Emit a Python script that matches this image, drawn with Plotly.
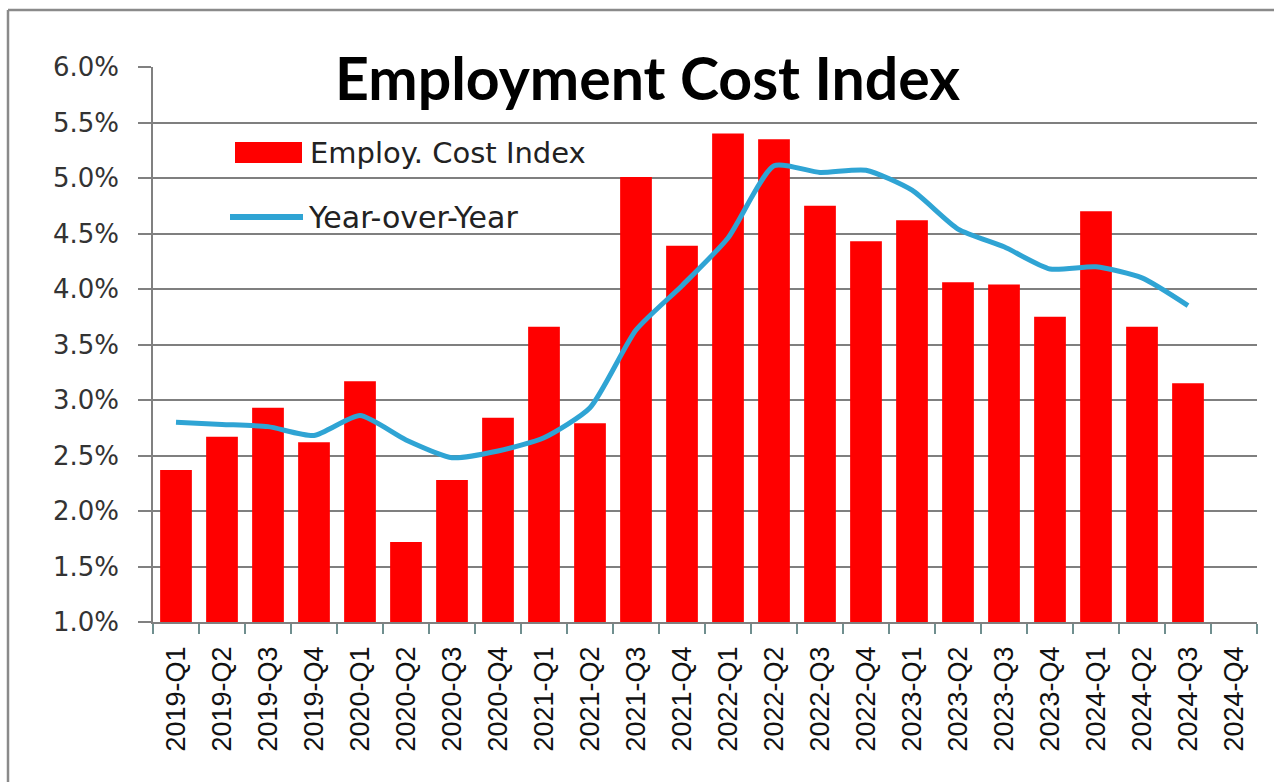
import plotly.graph_objects as go

# ---- data ----
quarters = ["2019-Q1", "2019-Q2", "2019-Q3", "2019-Q4",
            "2020-Q1", "2020-Q2", "2020-Q3", "2020-Q4",
            "2021-Q1", "2021-Q2", "2021-Q3", "2021-Q4",
            "2022-Q1", "2022-Q2", "2022-Q3", "2022-Q4",
            "2023-Q1", "2023-Q2", "2023-Q3", "2023-Q4",
            "2024-Q1", "2024-Q2", "2024-Q3", "2024-Q4"]
eci = [2.37, 2.67, 2.93, 2.62,
       3.17, 1.72, 2.28, 2.84,
       3.66, 2.79, 5.01, 4.39,
       5.40, 5.35, 4.75, 4.43,
       4.62, 4.06, 4.04, 3.75,
       4.70, 3.66, 3.15, None]
yoy = [2.80, 2.78, 2.76, 2.68,
       2.86, 2.64, 2.48, 2.54,
       2.66, 2.93, 3.63, 4.03,
       4.46, 5.11, 5.05, 5.07,
       4.89, 4.54, 4.38, 4.18,
       4.20, 4.10, 3.85, None]
y_ticks = [1.0, 1.5, 2.0, 2.5, 3.0, 3.5, 4.0, 4.5, 5.0, 5.5, 6.0]
title_text = "Employment Cost Index"
bar_name = "Employ. Cost Index"
line_name = "Year-over-Year"

# ---- geometry ----
W, H = 1274, 782
L, R, T, B = 153, 1257, 67, 622


def px_x(p):
    return (p - L) / (R - L)


def px_y(p):
    return (B - p) / (B - T)


RED = "#ff0000"
CYAN = "#2fa4d4"

fig = go.Figure()
fig.add_trace(go.Bar(x=quarters, y=eci, name=bar_name,
                     marker=dict(color=RED, line=dict(width=0)),
                     showlegend=False))
fig.add_trace(go.Scatter(x=quarters, y=yoy, name=line_name, mode="lines",
                         line=dict(color=CYAN, width=5, shape="spline", smoothing=0.6),
                         connectgaps=False, showlegend=False))

fig.update_layout(
    width=W, height=H,
    margin=dict(l=L, r=W - R, t=T, b=H - B, pad=0),
    plot_bgcolor="white", paper_bgcolor="white",
    bargap=0.31,
    showlegend=False,
)
fig.update_xaxes(
    type="category", range=[-0.5, len(quarters) - 0.5],
    tickangle=-90,
    tickfont=dict(family="Liberation Sans, Arial, sans-serif", size=27, color="#111111"),
    showline=True, linecolor="#808080", linewidth=1.5,
    ticks="outside", ticklen=10, tickcolor="#6f8f8f", tickwidth=1.5,
    tickson="boundaries", showgrid=False, ticklabelstandoff=12,
)
fig.update_yaxes(
    range=[1.0, 6.0], tickvals=y_ticks,
    ticktext=[f"{v:.1f}%" for v in y_ticks],
    showgrid=True, gridcolor="#7f7f7f", gridwidth=1.5,
    showline=True, linecolor="#808080", linewidth=1.5,
    ticks="outside", ticklen=13, tickcolor="#808080", tickwidth=1.5,
    tickfont=dict(family="DejaVu Sans, Verdana, sans-serif", size=26, color="#333333"),
    ticklabelstandoff=14, zeroline=False,
)

shapes = [
    # outer frame (top and left edges)
    dict(type="line", xref="paper", yref="paper", x0=px_x(8), x1=px_x(1280),
         y0=px_y(10), y1=px_y(10), line=dict(color="#8a8a8a", width=2.5)),
    dict(type="line", xref="paper", yref="paper", x0=px_x(8), x1=px_x(8),
         y0=px_y(10), y1=px_y(790), line=dict(color="#8a8a8a", width=2.5)),
    # legend swatches
    dict(type="rect", xref="paper", yref="paper", x0=px_x(235), x1=px_x(302),
         y0=px_y(142), y1=px_y(163), fillcolor=RED, line=dict(width=0)),
    dict(type="line", xref="paper", yref="paper", x0=px_x(230), x1=px_x(303),
         y0=px_y(217), y1=px_y(217), line=dict(color=CYAN, width=6)),
]
annotations = [
    dict(text=f"<b>{title_text}</b>", xref="paper", yref="paper",
         x=px_x(647), y=px_y(77), xanchor="center", yanchor="middle", showarrow=False,
         font=dict(family="Lato, Carlito, sans-serif", size=59, color="#000000")),
    dict(text=bar_name, xref="paper", yref="paper", x=px_x(308), y=px_y(153),
         xanchor="left", yanchor="middle", showarrow=False,
         font=dict(family="DejaVu Sans, Verdana, sans-serif", size=29, color="#222222")),
    dict(text=line_name, xref="paper", yref="paper", x=px_x(306), y=px_y(217),
         xanchor="left", yanchor="middle", showarrow=False,
         font=dict(family="DejaVu Sans, Verdana, sans-serif", size=30, color="#222222")),
]
fig.update_layout(shapes=shapes, annotations=annotations)

fig.write_html("out.html")
